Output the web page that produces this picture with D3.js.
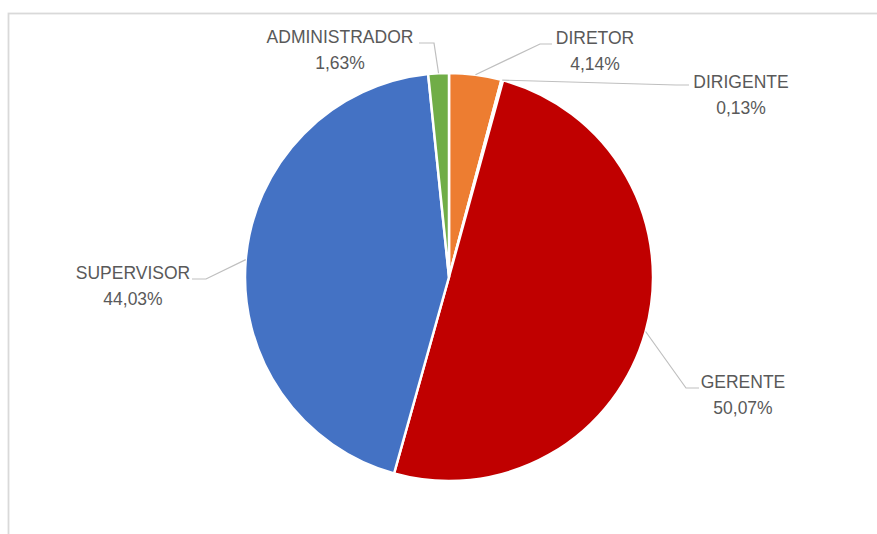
<!DOCTYPE html>
<html>
<head>
<meta charset="utf-8">
<script src="https://cdn.jsdelivr.net/npm/d3@7"></script>
<style>
  html, body { margin: 0; padding: 0; background: #fff; }
  svg { display: block; }
</style>
</head>
<body>
<svg id="chart" width="877" height="534"></svg>
<script>
// ---- data ----
const categories = ["DIRETOR", "DIRIGENTE", "GERENTE", "SUPERVISOR", "ADMINISTRADOR"];
const values = [4.14, 0.13, 50.07, 44.03, 1.63];
const colors = ["#ED7D31", "#A5A5A5", "#C00000", "#4472C4", "#70AD47"];

// ---- layout (label anchor positions; leader lines start on the arc) ----
const labelLayout = [
  { cx: 595, y: 44, elbow: [540, 44], end: [552, 44] },   // DIRETOR
  { cx: 741, y: 88, elbow: [676, 85], end: [689, 85] },   // DIRIGENTE
  { cx: 743, y: 388, elbow: [686, 388], end: [699, 388] },// GERENTE
  { cx: 133, y: 279, elbow: [206, 279], end: [192, 279] },// SUPERVISOR
  { cx: 340, y: 43, elbow: [434, 43], end: [419, 43] }    // ADMINISTRADOR
];

const svg = d3.select("#chart");
const W = 877, H = 534;
const cx = 449, cy = 277, R = 204;

// frame (cropped at right/bottom)
svg.append("rect")
  .attr("x", 8.5).attr("y", 13.5)
  .attr("width", W + 20).attr("height", H + 20)
  .attr("fill", "none").attr("stroke", "#d9d9d9").attr("stroke-width", 1.8);

const data = categories.map((c, i) => ({ name: c, value: values[i], color: colors[i], lay: labelLayout[i] }));

const pie = d3.pie().value(d => d.value).sort(null);
const arcs = pie(data);
const arc = d3.arc().innerRadius(0).outerRadius(R);

const g = svg.append("g").attr("transform", `translate(${cx},${cy})`);
g.selectAll("path.slice")
  .data(arcs)
  .join("path")
  .attr("class", "slice")
  .attr("d", arc)
  .attr("fill", d => d.data.color)
  .attr("stroke", "#fff")
  .attr("stroke-width", 2.5)
  .attr("stroke-linejoin", "round");

// leader lines + labels
const fmt = v => v.toFixed(2).replace(".", ",") + "%";
arcs.forEach(a => {
  const mid = (a.startAngle + a.endAngle) / 2;
  const sx = cx + R * Math.sin(mid);
  const sy = cy - R * Math.cos(mid);
  const L = a.data.lay;
  svg.append("polyline")
    .attr("points", [[sx, sy], L.elbow, L.end].map(p => p.join(",")).join(" "))
    .attr("fill", "none")
    .attr("stroke", "#bfbfbf")
    .attr("stroke-width", 1.2);
  const t = svg.append("text")
    .attr("x", L.cx).attr("y", L.y)
    .attr("text-anchor", "middle")
    .attr("fill", "#595959")
    .style("font-family", "'Liberation Sans', Arial, sans-serif")
    .style("font-size", "17.5px");
  t.append("tspan").attr("x", L.cx).attr("dy", 0).text(a.data.name);
  t.append("tspan").attr("x", L.cx).attr("dy", 26).text(fmt(a.data.value));
});
</script>
</body>
</html>
